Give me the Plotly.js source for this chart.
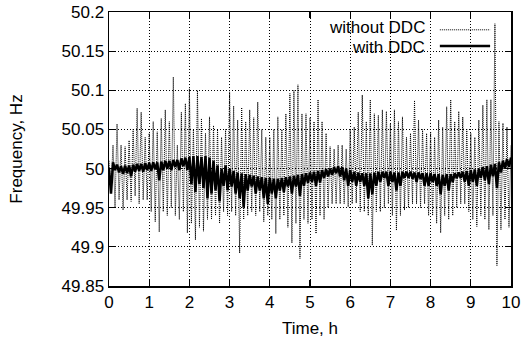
<!DOCTYPE html>
<html><head><meta charset="utf-8">
<script src="https://cdn.plot.ly/plotly-3.0.1.min.js"></script>
<style>html,body{margin:0;padding:0;background:#fff}</style>
</head><body><div id="chart" style="width:523px;height:339px"></div>
<script>
// Sampling step (hours) of the read-off envelope points
const step = 0.1;

// "without DDC": spike tops at t = 0, 0.1, ..., 10
const withoutPeaks = [50.01,50.03,50.057,50.03,50.028,50.036,50.05,50.077,50.072,50.04,
 50.045,50.06,50.047,50.064,50.075,50.06,50.117,50.03,50.072,50.083,
 50.102,50.05,50.1,50.064,50.045,50.066,50.055,50.05,50.04,50.05,
 50.098,50.08,50.062,50.078,50.06,50.075,50.065,50.085,50.05,50.04,
 50.04,50.05,50.066,50.05,50.07,50.096,50.1,50.107,50.07,50.07,
 50.065,50.06,50.088,50.06,50.045,50.028,50.025,50.03,50.03,50.025,
 50.05,50.053,50.072,50.094,50.06,50.088,50.07,50.068,50.075,50.073,
 50.057,50.075,50.06,50.066,50.04,50.045,50.087,50.062,50.05,50.045,
 50.047,50.04,50.062,50.053,50.079,50.088,50.06,50.073,50.066,50.05,
 50.045,50.04,50.062,50.081,50.088,50.088,50.185,50.06,50.058,50.053,
 50.03];
// "without DDC": spike bottoms at t = 0.05, 0.15, ..., 9.95
const withoutTroughs = [49.975,49.951,49.96,49.947,49.96,49.958,49.965,49.955,49.96,49.96,
 49.945,49.932,49.919,49.945,49.94,49.95,49.94,49.935,49.945,49.918,
 49.93,49.909,49.925,49.92,49.935,49.935,49.94,49.93,49.945,49.94,
 49.945,49.94,49.892,49.935,49.94,49.945,49.94,49.945,49.932,49.94,
 49.935,49.917,49.935,49.94,49.925,49.905,49.93,49.885,49.935,49.93,
 49.935,49.917,49.94,49.935,49.95,49.955,49.955,49.955,49.955,49.951,
 49.955,49.956,49.945,49.945,49.94,49.902,49.945,49.945,49.95,49.955,
 49.94,49.921,49.94,49.947,49.95,49.955,49.955,49.95,49.955,49.94,
 49.94,49.93,49.918,49.94,49.935,49.94,49.95,49.955,49.955,49.945,
 49.935,49.926,49.94,49.935,49.922,49.94,49.876,49.922,49.935,49.925];

// "with DDC": upper level at t = 0, 0.1, ..., 10
const withBase = [50.0,50.008,50.005,50.003,50.004,50.004,50.005,50.006,50.006,50.007,
 50.007,50.008,50.008,50.009,50.01,50.01,50.011,50.011,50.013,50.014,
 50.015,50.016,50.016,50.015,50.016,50.014,50.01,50.004,50.0,50.004,
 50.0,49.997,49.995,49.994,49.993,49.992,49.991,49.99,49.989,49.988,
 49.988,49.987,49.987,49.988,49.989,49.99,49.991,49.992,49.993,49.994,
 49.995,49.996,49.997,49.998,49.999,50.0,50.002,50.003,50.002,50.0,
 49.998,49.996,49.995,49.994,49.994,49.994,49.995,49.996,49.996,49.996,
 49.996,49.995,49.995,49.996,49.996,49.996,49.995,49.995,49.994,49.994,
 49.994,49.993,49.993,49.992,49.993,49.993,49.994,49.995,49.996,49.997,
 49.998,49.999,50.0,50.002,50.003,50.005,50.006,50.008,50.01,50.012,
 50.014];
// "with DDC": dips at t = 0.05, 0.15, ..., 9.95
const withDips = [49.968,49.998,49.995,49.993,49.994,49.99,49.996,49.997,49.996,49.998,
 49.997,49.999,49.985,49.998,50.0,49.998,50.002,49.998,50.003,49.998,
 49.98,49.97,49.98,49.975,49.962,49.968,49.972,49.958,49.978,49.972,
 49.977,49.968,49.962,49.95,49.972,49.977,49.968,49.972,49.962,49.955,
 49.968,49.962,49.972,49.97,49.977,49.968,49.977,49.965,49.978,49.982,
 49.983,49.978,49.982,49.988,49.99,49.992,49.994,49.99,49.985,49.978,
 49.983,49.978,49.983,49.978,49.962,49.967,49.978,49.983,49.988,49.978,
 49.983,49.972,49.978,49.988,49.988,49.987,49.983,49.987,49.978,49.978,
 49.983,49.978,49.967,49.978,49.972,49.983,49.988,49.988,49.983,49.978,
 49.983,49.978,49.988,49.985,49.98,49.99,49.975,49.995,50.0,50.002];

const xTickVals = [0,1,2,3,4,5,6,7,8,9,10];
const xTickText = ['0','1','2','3','4','5','6','7','8','9','10'];
const yTickVals = [49.85,49.9,49.95,50,50.05,50.1,50.15,50.2];
const yTickText = ['49.85','49.9','49.95','50','50.05','50.1','50.15','50.2'];
const seriesNames = ['without DDC','with DDC'];
const xTitle = 'Time, h';
const yTitle = 'Frequency, Hz';

function interleave(hi, lo) {
  const x = [], y = [];
  for (let i = 0; i < hi.length; i++) {
    x.push(+(i * step).toFixed(3)); y.push(hi[i]);
    if (i < lo.length) { x.push(+(i * step + step / 2).toFixed(3)); y.push(lo[i]); }
  }
  return {x, y};
}
const w0 = interleave(withoutPeaks, withoutTroughs);
const w1 = interleave(withBase, withDips);

const font = '"Liberation Sans", Arial, Helvetica, sans-serif';
const traces = [
  {x: w0.x, y: w0.y, mode: 'lines', name: seriesNames[0], hoverinfo: 'skip',
   line: {color: '#000', width: 1, dash: '1px,1px'}},
  {x: w1.x, y: w1.y, mode: 'lines', name: seriesNames[1], hoverinfo: 'skip',
   line: {color: '#000', width: 2.5}}
];

const axisCommon = {
  ticks: 'inside', ticklen: 6, tickwidth: 1.2, tickcolor: '#000',
  mirror: 'ticks', showline: true, linecolor: '#000', linewidth: 1.5,
  showgrid: true, gridcolor: '#000', gridwidth: 1, griddash: '1px,2px',
  zeroline: false, tickfont: {family: font, size: 17, color: '#000'}
};

const layout = {
  width: 523, height: 339,
  margin: {l: 109, r: 12, t: 12, b: 53, pad: 0},
  paper_bgcolor: '#fff', plot_bgcolor: '#fff',
  font: {family: font, size: 17, color: '#000'},
  showlegend: false,
  xaxis: Object.assign({}, axisCommon, {
    range: [0, 10], tickmode: 'array', tickvals: xTickVals, ticktext: xTickText,
    title: {text: xTitle, font: {family: font, size: 17}, standoff: 11}
  }),
  yaxis: Object.assign({}, axisCommon, {
    range: [49.85, 50.2], tickmode: 'array', tickvals: yTickVals, ticktext: yTickText,
    title: {text: yTitle, font: {family: font, size: 17}, standoff: 34}
  }),
  shapes: [
    {type: 'rect', xref: 'paper', yref: 'paper', x0: 0.505, x1: 0.963, y0: 0.843, y1: 1,
     fillcolor: '#fff', line: {width: 0}, layer: 'between'},
    {type: 'line', xref: 'paper', yref: 'paper', x0: 0.823, x1: 0.948, y0: 0.935, y1: 0.935,
     line: {color: '#000', width: 1, dash: '1px,1px'}},
    {type: 'line', xref: 'paper', yref: 'paper', x0: 0.823, x1: 0.948, y0: 0.876, y1: 0.876,
     line: {color: '#000', width: 2.5}}
  ],
  annotations: [
    {xref: 'paper', yref: 'paper', x: 0.791, y: 0.944, xanchor: 'right', yanchor: 'middle',
     text: seriesNames[0], showarrow: false, font: {family: font, size: 17, color: '#000'}},
    {xref: 'paper', yref: 'paper', x: 0.791, y: 0.872, xanchor: 'right', yanchor: 'middle',
     text: seriesNames[1], showarrow: false, font: {family: font, size: 17, color: '#000'}}
  ]
};

Plotly.newPlot('chart', traces, layout, {staticPlot: true, displayModeBar: false});
</script>
</body></html>
